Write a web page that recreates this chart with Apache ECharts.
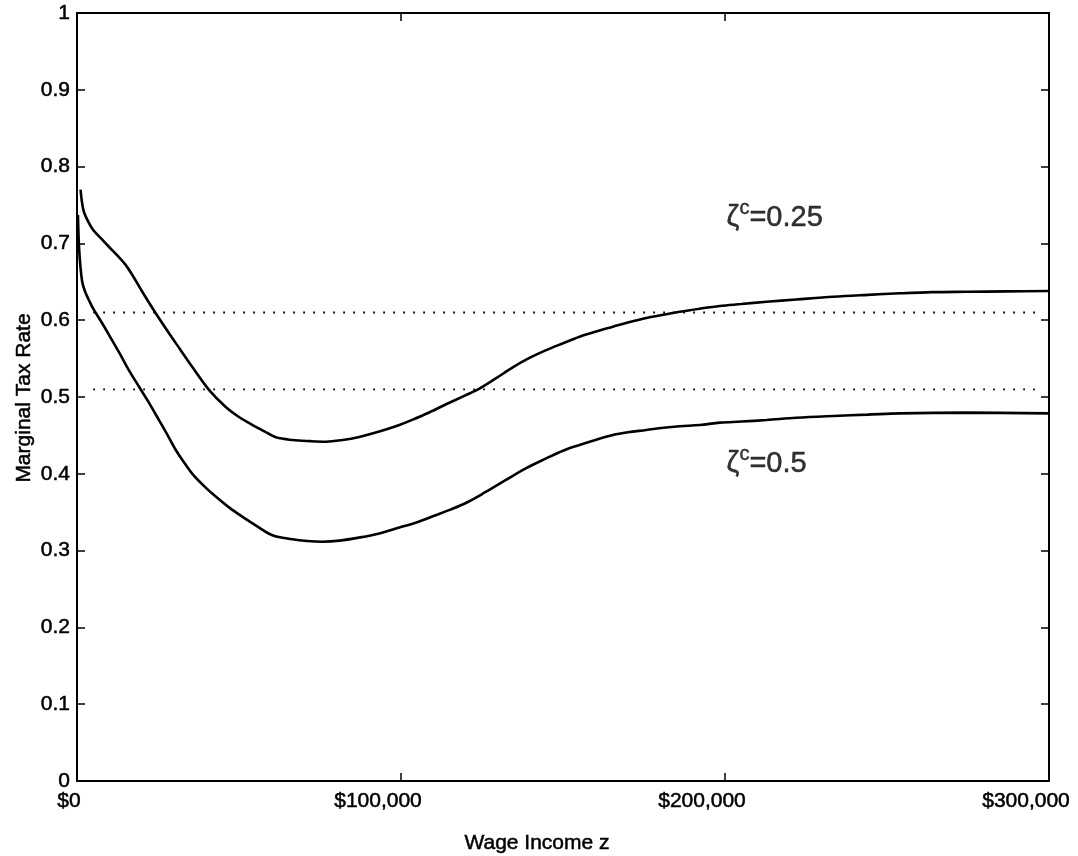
<!DOCTYPE html>
<html><head><meta charset="utf-8">
<script src="https://cdn.jsdelivr.net/npm/echarts@6/dist/echarts.min.js"></script>
<style>html,body{margin:0;padding:0;background:#fff}#c{width:1078px;height:856px}</style>
</head><body><div id="c"></div>
<script>
// ---- data ----
const incomeUpper = [1100,2000,3500,5000,8000,10000,12500,15000,17500,20000,24300,28400,32000,35600,40800,45900,50000,54200,58000,61400,66500,72000,76800,82000,87100,93300,99500,103600,108000,113900,119000,124200,129000,134500,139500,144800,150000,155100,160000,165400,170000,175700,181000,186000,192200,198400,205000,212800,222000,233400,244000,254000,264000,274600,287000,300000];
const mtrUpper = [0.770,0.743,0.728,0.7175,0.704,0.695,0.684,0.672,0.656,0.638,0.609,0.583,0.561,0.539,0.509,0.487,0.474,0.4635,0.455,0.4475,0.444,0.4425,0.4418,0.444,0.448,0.455,0.4635,0.4705,0.4785,0.4905,0.5005,0.511,0.5235,0.5386,0.5505,0.561,0.570,0.5785,0.585,0.5915,0.597,0.603,0.607,0.611,0.615,0.6185,0.621,0.624,0.627,0.6306,0.633,0.635,0.6365,0.637,0.6375,0.638];
const incomeLower = [300,700,1600,2600,3700,5000,7500,10000,13000,16000,19200,22000,25300,28000,30500,33000,35600,39000,42900,47000,51100,55500,60300,66500,71000,75800,81000,87100,93000,99500,105000,110000,115000,120000,126000,132400,138500,144800,150000,155100,160000,165400,170000,175700,181000,186000,192200,198400,205000,212800,222000,233400,244000,254000,274600,300000];
const mtrLower = [0.737,0.690,0.650,0.636,0.626,0.615,0.598,0.580,0.558,0.535,0.513,0.494,0.470,0.450,0.431,0.415,0.400,0.385,0.370,0.356,0.344,0.332,0.320,0.3147,0.3125,0.3116,0.313,0.317,0.322,0.330,0.337,0.345,0.353,0.362,0.376,0.392,0.407,0.420,0.430,0.4375,0.444,0.4505,0.454,0.457,0.460,0.462,0.4635,0.4666,0.468,0.470,0.473,0.4753,0.477,0.4787,0.4796,0.4787];
const refIncome = [5000, 298000];
const refRateHigh = 0.61;
const refRateLow = 0.51;
const xTickLabels = ['$0', '$100,000', '$200,000', '$300,000'];
const yTickLabels = ['0','0.1','0.2','0.3','0.4','0.5','0.6','0.7','0.8','0.9','1'];
const curveNames = ['0.25', '0.5'];
const labelAnchors = [[200500, 0.735], [200500, 0.415]];

// ---- chart ----
const font = '"Liberation Sans", Arial, Helvetica, sans-serif';
const chart = echarts.init(document.getElementById('c'), null, {renderer: 'canvas'});
const axisLine = {show: true, onZero: false, lineStyle: {color: '#000', width: 2}};
const tick = {show: true, inside: true, length: 8, lineStyle: {color: '#000', width: 1.5}};
const zip = (xs, ys) => xs.map((x, i) => [x, ys[i]]);
const txt = {color: '#000', fontFamily: font, fontSize: 21, textBorderColor: '#000', textBorderWidth: 0.5};

const xBase = {type: 'value', min: 0, max: 300000, interval: 100000, axisLine, axisTick: tick, splitLine: {show: false}};
const yBase = {type: 'value', min: 0, max: 1, interval: 0.1, axisLine, axisTick: tick, splitLine: {show: false}};

// x tick labels sit a little left of their ticks in the reference
const xRich = {
  a: Object.assign({}, txt, {padding: [0, 16, 0, 0]}),
  b: Object.assign({}, txt, {padding: [0, 46, 0, 0]})
};

const labelRich = {
  z: {fontSize: 29, fontFamily: font, color: '#000', verticalAlign: 'bottom', lineHeight: 32, textBorderColor: '#000', textBorderWidth: 0.5},
  s: {fontSize: 20, fontFamily: font, color: '#000', verticalAlign: 'bottom', lineHeight: 32, padding: [0, 0, 14, 0], textBorderColor: '#000', textBorderWidth: 0.4},
  t: {fontSize: 29, fontFamily: font, color: '#000', verticalAlign: 'bottom', lineHeight: 32, textBorderColor: '#000', textBorderWidth: 0.5}
};

const option = {
  animation: false,
  backgroundColor: '#fff',
  grid: {left: 77, right: 29, top: 13, bottom: 75, containLabel: false, outerBoundsMode: 'none'},
  xAxis: [
    Object.assign({}, xBase, {position: 'bottom',
      axisLabel: Object.assign({}, txt, {margin: 10, rich: xRich,
        formatter: v => { const i = Math.round(v / 100000); return (i === 0 ? '{a|' : '{b|') + xTickLabels[i] + '}'; }})}),
    Object.assign({}, xBase, {position: 'top', axisLabel: {show: false}})
  ],
  yAxis: [
    Object.assign({}, yBase, {position: 'left',
      axisLabel: Object.assign({}, txt, {margin: 7, formatter: v => yTickLabels[Math.round(v * 10)]})}),
    Object.assign({}, yBase, {position: 'right', axisLabel: {show: false}})
  ],
  series: [
    {type: 'line', name: 'zeta 0.25', data: zip(incomeUpper, mtrUpper), showSymbol: false, smooth: 0.35,
      lineStyle: {color: '#000', width: 2.6}},
    {type: 'line', name: 'zeta 0.5', data: zip(incomeLower, mtrLower), showSymbol: false, smooth: 0.35,
      lineStyle: {color: '#000', width: 2.6}},
    {type: 'line', data: refIncome.map(x => [x, refRateHigh]), showSymbol: false,
      lineStyle: {color: '#000', width: 1.8, type: [1.8, 8.2]}},
    {type: 'line', data: refIncome.map(x => [x, refRateLow]), showSymbol: false,
      lineStyle: {color: '#000', width: 1.8, type: [1.8, 8.2]}},
    {type: 'scatter', symbolSize: 0, data: labelAnchors.map((p, i) => ({value: p, name: curveNames[i]})),
      label: {show: true, position: 'right', distance: 0,
        formatter: p => '{z|ζ}{s|c}{t|=' + p.name + '}', rich: labelRich}}
  ],
  graphic: [
    {type: 'text', x: 537, y: 843,
      style: Object.assign({text: 'Wage Income z', font: '21px ' + font, fill: '#000', align: 'center', verticalAlign: 'middle', stroke: '#000', lineWidth: 0.5})},
    {type: 'text', x: 24, y: 398, rotation: Math.PI / 2,
      style: {text: 'Marginal Tax Rate', font: '21px ' + font, fill: '#000', align: 'center', verticalAlign: 'middle', stroke: '#000', lineWidth: 0.5}}
  ]
};
chart.setOption(option);
</script>
</body></html>
